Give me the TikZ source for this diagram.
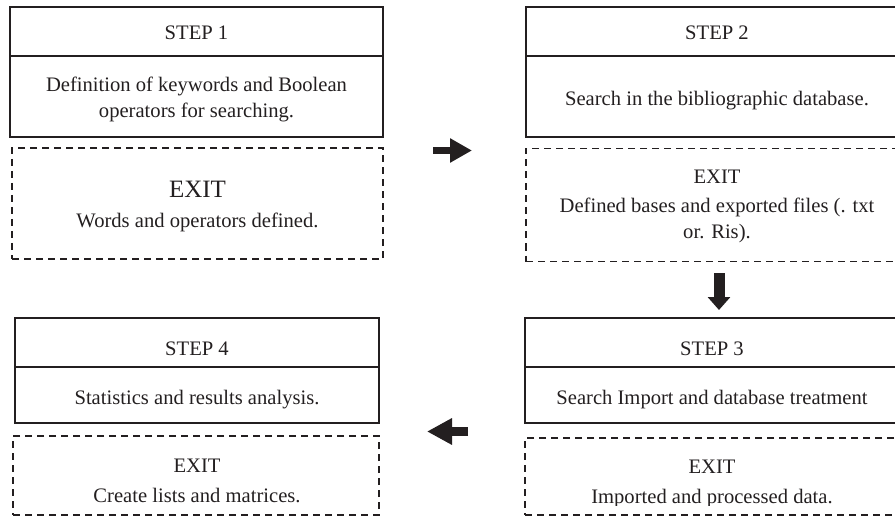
\documentclass[tikz,border=0pt]{standalone}
\usepackage{fontspec}
\setmainfont{Liberation Serif}
\usetikzlibrary{arrows.meta}
\definecolor{ink}{HTML}{231F20}
\tikzset{
  solidbox/.style={draw=ink, line width=1.6pt, rectangle, inner sep=0pt},
  exitbox/.style={draw=ink, line width=1.5pt, dash pattern=on 7pt off 5pt, rectangle, inner sep=0pt},
  txt/.style={font=\fontsize{20.6}{26}\selectfont, text=ink, inner sep=0pt, anchor=base},
  bigtxt/.style={font=\fontsize{25}{30}\selectfont, text=ink, inner sep=0pt, anchor=base},
  fatarrow/.style={draw=ink, line width=#1},
}
\begin{document}
\begin{tikzpicture}[x=1pt, y=-1pt]
\useasboundingbox (0,0) rectangle (895,516);
\clip (0,0) rectangle (895,516);
% STEP 1
\node[solidbox, minimum width=373pt, minimum height=49pt] (s1h) at (196.5,31.5) {};
\node[solidbox, minimum width=373pt, minimum height=81pt] (s1b) at (196.5,96.5) {};
\node[exitbox, minimum width=371pt, minimum height=111pt] (s1e) at (197.5,203.5) {};
\node[txt] (t1h) at (196.5,40) {STEP 1};
\node[txt] (t1b1) at (196.5,91.5) {Definition of keywords and Boolean};
\node[txt] (t1b2) at (196.5,117.5) {operators for searching.};
\node[bigtxt] (t1e1) at (197.5,198) {EXIT};
\node[txt] (t1e2) at (197.5,227.5) {Words and operators defined.};
% STEP 2
\node[solidbox, minimum width=382pt, minimum height=49pt] (s2h) at (717,31.5) {};
\node[solidbox, minimum width=382pt, minimum height=81pt] (s2b) at (717,96.5) {};
\node[exitbox, minimum width=382pt, minimum height=113pt] (s2e) at (717,205) {};
\node[txt] (t2h) at (717,40) {STEP 2};
\node[txt] (t2b) at (717,106) {Search in the bibliographic database.};
\node[txt] (t2e1) at (717,184) {EXIT};
\node[txt] (t2e2) at (717,213) {Defined bases and exported files (. txt};
\node[txt] (t2e3) at (717,238) {or. Ris).};
% STEP 3
\node[solidbox, minimum width=380pt, minimum height=49pt] (s3h) at (715,342.5) {};
\node[solidbox, minimum width=380pt, minimum height=56pt] (s3b) at (715,395) {};
\node[exitbox, minimum width=380pt, minimum height=77pt] (s3e) at (715,476.5) {};
\node[txt] (t3h) at (712,355) {STEP 3};
\node[txt] (t3b) at (712,404) {Search Import and database treatment};
\node[txt] (t3e1) at (712,473) {EXIT};
\begin{scope}
\clip (525,440) rectangle (905,505);
\node[txt] (t3e2) at (712,503.5) {Imported and processed data.};
\end{scope}
% STEP 4
\node[solidbox, minimum width=364pt, minimum height=49pt] (s4h) at (197,342.5) {};
\node[solidbox, minimum width=364pt, minimum height=56pt] (s4b) at (197,395) {};
\node[exitbox, minimum width=366pt, minimum height=79pt] (s4e) at (196,475.5) {};
\node[txt] (t4h) at (197,355) {STEP 4};
\node[txt] (t4b) at (197,404) {Statistics and results analysis.};
\node[txt] (t4e1) at (197,472) {EXIT};
\node[txt] (t4e2) at (197,502) {Create lists and matrices.};
% arrows
\coordinate (a1s) at (433,150.5);
\coordinate (a1e) at (472,150.5);
\draw[fatarrow=7.5pt, -{Triangle[width=23pt,length=22pt]}, fill=ink] (a1s) -- (a1e);
\coordinate (a2s) at (719,273);
\coordinate (a2e) at (719,310);
\draw[fatarrow=11pt, -{Triangle[width=22pt,length=13pt]}, fill=ink] (a2s) -- (a2e);
\coordinate (a3s) at (468,431.5);
\coordinate (a3e) at (427,431.5);
\draw[fatarrow=9pt, -{Triangle[width=25pt,length=25pt]}, fill=ink] (a3s) -- (a3e);
\end{tikzpicture}
\end{document}
